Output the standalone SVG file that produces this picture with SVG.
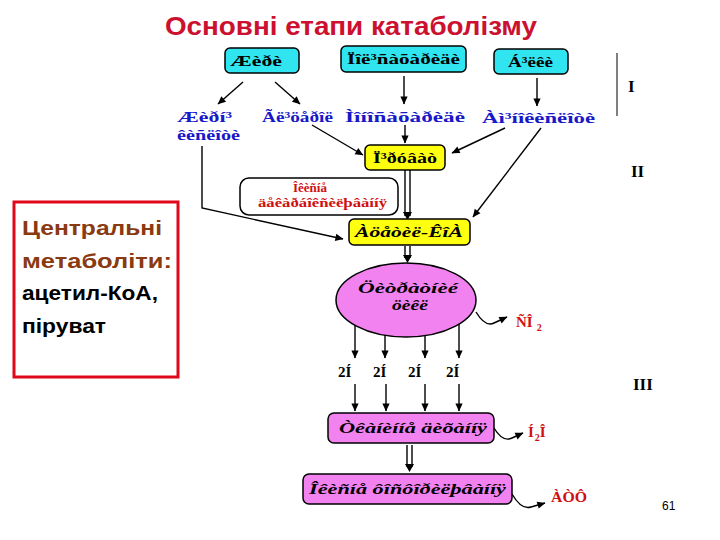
<svg xmlns="http://www.w3.org/2000/svg" width="720" height="540" viewBox="0 0 720 540">
<defs>
<marker id="ah" viewBox="0 0 10 10" refX="9.5" refY="5" markerWidth="9" markerHeight="8" orient="auto" markerUnits="userSpaceOnUse">
<path d="M0,0.5 L10,5 L0,9.5 z" fill="#000"/>
</marker>
<style>
text{}
.title{font-family:"Liberation Sans",Arial,sans-serif;font-weight:bold;font-size:25px;fill:#cc1030}
.cy{fill:#30e4f0;stroke:#000;stroke-width:1.5}
.ye{fill:#ffff10;stroke:#000;stroke-width:1.5}
.pk{fill:#f282f0;stroke:#000;stroke-width:1.5}
.wb{fill:#fff;stroke:#000;stroke-width:1.5}
.bt{font-family:"Liberation Serif","Times New Roman",serif;font-weight:bold;font-size:15px;fill:#000}
.bl{font-family:"Liberation Serif","Times New Roman",serif;font-weight:bold;font-size:15px;fill:#1818c8}
.rd{font-family:"Liberation Serif","Times New Roman",serif;font-weight:bold;font-size:13px;fill:#d01010}
.it{font-family:"Liberation Serif","Times New Roman",serif;font-weight:bold;font-style:italic;font-size:15px;fill:#000}
.rl{font-family:"Liberation Serif","Times New Roman",serif;font-weight:bold;font-size:15px;fill:#d01010}
.rom{font-family:"Liberation Serif","Times New Roman",serif;font-weight:bold;font-size:17px;fill:#000}
.ln{stroke:#000;stroke-width:1.4;fill:none}
.lnm{stroke:#000;stroke-width:1.4;fill:none;marker-end:url(#ah)}
.lt{font-family:"Liberation Sans",Arial,sans-serif;font-size:20px;font-weight:bold}
</style>
</defs>
<rect width="720" height="540" fill="#fff"/>
<text class="title" x="165" y="35" textLength="372" lengthAdjust="spacingAndGlyphs">Основні етапи катаболізму</text>

<g id="connectors">
<line class="lnm" x1="243" y1="82" x2="218" y2="104"/>
<line class="lnm" x1="275" y1="82" x2="300" y2="104"/>
<line class="lnm" x1="404" y1="76" x2="404" y2="104"/>
<line class="lnm" x1="537" y1="78" x2="537" y2="106"/>
<line class="lnm" x1="312" y1="125" x2="363" y2="155"/>
<line class="lnm" x1="405" y1="125" x2="405" y2="143"/>
<line class="lnm" x1="505" y1="128" x2="452" y2="153"/>
<line class="lnm" x1="541" y1="128" x2="473" y2="217"/>
<polyline class="lnm" points="202,146 202,208 343,239"/>
<line class="ln" x1="405" y1="170" x2="405" y2="216"/>
<line class="ln" x1="410" y1="170" x2="410" y2="216"/>
<path d="M403,212 L412,212 L407.5,220 z" fill="#000"/>
<line class="ln" x1="405" y1="246" x2="405" y2="258"/>
<line class="ln" x1="410" y1="246" x2="410" y2="258"/>
<path d="M403,255 L412,255 L407.5,263 z" fill="#000"/>
<path class="lnm" d="M476,312 C482,322 488,326 494,323 L507,317"/>
<line class="lnm" x1="355" y1="325" x2="355" y2="358"/>
<line class="lnm" x1="385" y1="335" x2="385" y2="358"/>
<line class="lnm" x1="425" y1="336" x2="425" y2="358"/>
<line class="lnm" x1="459" y1="324" x2="459" y2="358"/>
<line class="lnm" x1="355" y1="384" x2="355" y2="411"/>
<line class="lnm" x1="386" y1="384" x2="386" y2="411"/>
<line class="lnm" x1="425" y1="384" x2="425" y2="411"/>
<line class="lnm" x1="459" y1="384" x2="459" y2="411"/>
<path class="lnm" d="M494,428 C500,438 506,441 512,438 L523,433"/>
<line class="ln" x1="407" y1="445" x2="407" y2="467"/>
<line class="ln" x1="412" y1="445" x2="412" y2="467"/>
<path d="M405,464 L414,464 L409.5,472 z" fill="#000"/>
<path class="lnm" d="M512,494 C519,506 525,509 531,507 L545,503"/>
</g>

<g id="n-zhyry"><rect class="cy" x="225" y="48" width="74" height="25" rx="5"/><text class="bt" x="230" y="66" textLength="52" lengthAdjust="spacingAndGlyphs">Æèðè</text></g>
<g id="n-polisaharydy"><rect class="cy" x="341" y="46" width="125" height="26" rx="5"/><text class="bt" x="347" y="64" textLength="113" lengthAdjust="spacingAndGlyphs">Ïîë³ñàõàðèäè</text></g>
<g id="n-bilky"><rect class="cy" x="494" y="49" width="74" height="25" rx="5"/><text class="bt" x="508" y="67" textLength="45" lengthAdjust="spacingAndGlyphs">Á³ëêè</text></g>

<g id="n-zhyrni"><text class="bl" x="177" y="122" textLength="55" lengthAdjust="spacingAndGlyphs">Æèðí³</text><text class="bl" x="177" y="140" textLength="63" lengthAdjust="spacingAndGlyphs">êèñëîòè</text></g>
<g id="n-glicerol"><text class="bl" x="262" y="122" textLength="71" lengthAdjust="spacingAndGlyphs">Ãë³öåðîë</text></g>
<g id="n-monosaharydy"><text class="bl" x="345" y="122" textLength="120" lengthAdjust="spacingAndGlyphs">Ìîíîñàõàðèäè</text></g>
<g id="n-aminokysloty"><text class="bl" x="482" y="123" textLength="113" lengthAdjust="spacingAndGlyphs">Àì³íîêèñëîòè</text></g>

<g id="n-piruvat"><rect class="ye" x="365" y="145" width="80" height="25" rx="5"/><text class="bt" x="373" y="163" textLength="64" lengthAdjust="spacingAndGlyphs">Ï³ðóâàò</text></g>

<g id="n-dekarb"><rect class="wb" x="240" y="178" width="158" height="37" rx="9"/><text class="rd" x="293" y="192" textLength="34" lengthAdjust="spacingAndGlyphs">Îêèñíå</text><text class="rd" x="258" y="207" textLength="129" lengthAdjust="spacingAndGlyphs">äåêàðáîêñèëþâàííÿ</text></g>

<g id="n-acetyl"><rect class="ye" x="349" y="219" width="121" height="26" rx="5"/><text class="it" x="355" y="237" textLength="108" lengthAdjust="spacingAndGlyphs">Àöåòèë-ÊîÀ</text></g>

<g id="n-cycle"><ellipse class="pk" cx="406" cy="300" rx="70" ry="37"/><text class="it" x="358" y="293" textLength="100" lengthAdjust="spacingAndGlyphs">Öèòðàòíèé</text><text class="it" x="392" y="310" textLength="36" lengthAdjust="spacingAndGlyphs">öèêë</text></g>

<g id="n-co2"><text class="rl" x="516" y="327">ÑÎ<tspan font-size="10" dx="4" dy="4">2</tspan></text></g>

<g id="n-2h"><text class="bt" x="338" y="377">2Í</text><text class="bt" x="373" y="377">2Í</text><text class="bt" x="408" y="377">2Í</text><text class="bt" x="446" y="377">2Í</text></g>

<g id="n-tkanynne"><rect class="pk" x="328" y="413" width="166" height="30" rx="6"/><text class="it" x="339" y="433" textLength="148" lengthAdjust="spacingAndGlyphs">Òêàíèííå äèõàííÿ</text></g>
<g id="n-h2o"><text class="rl" x="528" y="437">Í<tspan font-size="10" dx="1" dy="4">2</tspan><tspan dy="-4">Î</tspan></text></g>

<g id="n-fosfor"><rect class="pk" x="303" y="474" width="209" height="30" rx="6"/><text class="it" x="309" y="494" textLength="197" lengthAdjust="spacingAndGlyphs">Îêèñíå ôîñôîðèëþâàííÿ</text></g>
<g id="n-atf"><text class="rl" x="551" y="502" textLength="36" lengthAdjust="spacingAndGlyphs">ÀÒÔ</text></g>

<g id="stages">
<line x1="617" y1="53" x2="617" y2="116" stroke="#000" stroke-width="1"/>
<text class="rom" x="628" y="92">I</text>
<text class="rom" x="631" y="177">II</text>
<text class="rom" x="633" y="390">III</text>
</g>

<g id="central-box">
<rect x="14" y="202" width="164" height="175" fill="#fff" stroke="#e00818" stroke-width="3"/>
<text class="lt" x="22" y="235" fill="#8a3a10" textLength="140" lengthAdjust="spacingAndGlyphs">Центральні</text>
<text class="lt" x="22" y="268" fill="#8a3a10" textLength="150" lengthAdjust="spacingAndGlyphs">метаболіти:</text>
<text class="lt" x="22" y="300" fill="#000" textLength="136" lengthAdjust="spacingAndGlyphs">ацетил-КоА,</text>
<text class="lt" x="22" y="333" fill="#000" textLength="84" lengthAdjust="spacingAndGlyphs">піруват</text>
</g>

<text x="662" y="510" font-family="Liberation Sans,Arial,sans-serif" font-size="12" fill="#000">61</text>
</svg>
